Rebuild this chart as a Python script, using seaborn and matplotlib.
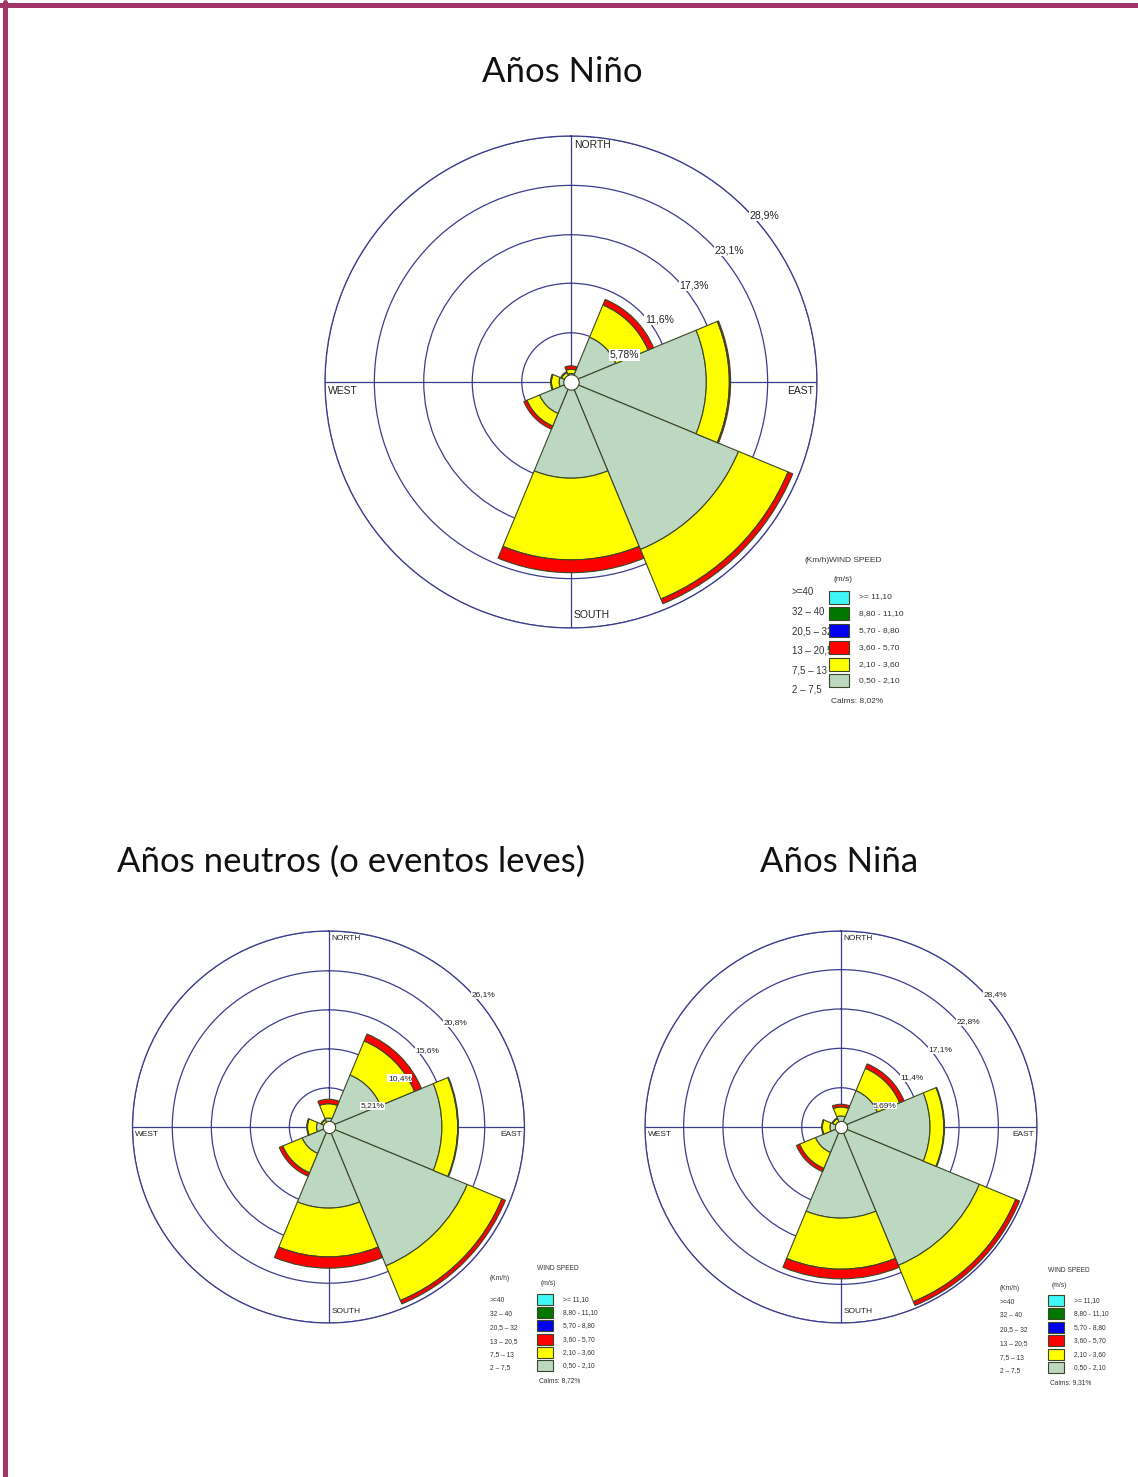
import numpy as np
import matplotlib
matplotlib.use("Agg")
import matplotlib.pyplot as plt
from matplotlib.patches import Rectangle
from matplotlib.lines import Line2D
import seaborn as sns

W, H = 1138, 1477

# --- datos ---------------------------------------------------------------
angulos = [0, 45, 90, 135, 180, 225, 270, 315]   # N, NE, E, SE, S, SW, W, NW

clases_ms = ['0,50 - 2,10', '2,10 - 3,60', '3,60 - 5,70',
             '5,70 - 8,80', '8,80 - 11,10', '>= 11,10']
clases_kmh = ['2 – 7,5', '7,5 – 13', '13 – 20,5', '20,5 – 32', '32 – 40', '>=40']
colores = ['#bcd8c1', '#ffff00', '#ff0000', '#0000f0', '#007800', '#40f8f8']

# frecuencia (%) por direccion, una lista por clase de velocidad
nino_050_210 = [1.0, 5.7, 15.9, 21.3, 11.3, 4.0, 1.4, 0.8]
nino_210_360 = [0.5, 4.1, 2.7, 6.3, 9.6, 1.6, 0.9, 0.4]
nino_360_570 = [0.4, 0.7, 0.15, 0.6, 1.5, 0.4, 0.1, 0.1]

neutro_050_210 = [1.2, 7.5, 15.1, 20.0, 10.8, 3.8, 1.6, 0.6]
neutro_210_360 = [1.9, 4.9, 2.1, 5.0, 6.5, 2.8, 1.2, 0.4]
neutro_360_570 = [0.6, 1.0, 0.1, 0.5, 1.5, 0.5, 0.1, 0.1]

nina_050_210 = [1.6, 5.7, 12.9, 21.7, 13.2, 4.0, 1.6, 0.8]
nina_210_360 = [1.3, 3.5, 2.0, 5.7, 7.4, 2.5, 1.1, 0.5]
nina_360_570 = [0.4, 0.7, 0.1, 0.6, 1.4, 0.5, 0.1, 0.1]

anillos_nino = [5.78, 11.6, 17.3, 23.1, 28.9]
anillos_neutro = [5.21, 10.4, 15.6, 20.8, 26.1]
anillos_nina = [5.69, 11.4, 17.1, 22.8, 28.4]

calmas = [8.02, 8.72, 9.31]

titulos = ['Años Niño', 'Años neutros (o eventos leves)', 'Años Niña']

# --- estilo --------------------------------------------------------------
sns.set_style('white')
plt.rcParams['font.family'] = ['Liberation Sans', 'DejaVu Sans']

AZUL = '#3c3c8e'
BORDE = '#3a4626'
TEXTO = '#333333'

fig = plt.figure(figsize=(W / 100, H / 100), dpi=100)


def fx(x):
    return x / W


def fy(y):
    return 1 - y / H


def rosa(cx, cy, r, series, anillos, fs):
    ax = fig.add_axes([fx(cx - r), fy(cy + r), 2 * r / W, 2 * r / H], projection='polar')
    ax.set_theta_zero_location('N')
    ax.set_theta_direction(-1)
    ax.set_ylim(0, anillos[-1])
    ax.set_yticks(anillos)
    ax.set_yticklabels([])
    ax.set_xticks(np.deg2rad([0, 90, 180, 270]))
    ax.set_xticklabels([])
    ax.grid(True, color=AZUL, lw=0.9)
    ax.spines['polar'].set_color(AZUL)
    ax.spines['polar'].set_linewidth(0.9)
    ax.set_axisbelow(True)

    theta = np.deg2rad(angulos)
    base = np.zeros(len(angulos))
    for valores, color in zip(series, colores):
        ax.bar(theta, valores, width=np.deg2rad(45), bottom=base, color=color,
               edgecolor=BORDE, linewidth=0.8, zorder=3)
        base = base + np.array(valores)

    ax.plot([0], [0], 'o', ms=r * 0.045, mfc='white', mec=BORDE, mew=0.8, zorder=5)

    for v in anillos:
        etiqueta = f'{v:.3g}'.replace('.', ',') + '%'
        ax.annotate(etiqueta, (np.deg2rad(45), v), xytext=(3, -2),
                    textcoords='offset points', ha='left', va='top', fontsize=fs,
                    color='#222222', zorder=6,
                    bbox=dict(boxstyle='square,pad=0.05', fc='white', ec='none'))

    rmax = anillos[-1]
    kw = dict(textcoords='offset points', fontsize=fs, color='#222222')
    ax.annotate('NORTH', (0, rmax), xytext=(2, -3), ha='left', va='top', **kw)
    ax.annotate('WEST', (np.deg2rad(270), rmax), xytext=(2, -3), ha='left', va='top', **kw)
    ax.annotate('EAST', (np.deg2rad(90), rmax), xytext=(-2, -3), ha='right', va='top', **kw)
    ax.annotate('SOUTH', (np.pi, rmax), xytext=(2, 6), ha='left', va='bottom', **kw)
    return ax


def leyenda(x, y, calma, fs, bw, bh, y0, dy, x_kmh, y_kmh, dy_kmh, fs_kmh, x_km_h, y_km_h):
    fig.text(fx(x_km_h), fy(y_km_h), '(Km/h)', fontsize=fs, ha='left', va='center', color=TEXTO)
    fig.text(fx(x), fy(y), 'WIND SPEED', fontsize=fs, ha='left', va='center', color=TEXTO)
    fig.text(fx(x + 4), fy(y + 1.1 * dy), '(m/s)', fontsize=fs, ha='left', va='center', color=TEXTO)
    n = len(colores)
    for i in range(n):
        k = n - 1 - i
        yc = y0 + i * dy
        fig.text(fx(x_kmh), fy(y_kmh + i * dy_kmh), clases_kmh[k], fontsize=fs_kmh,
                 ha='left', va='center', color=TEXTO, zorder=1)
        fig.add_artist(Rectangle((fx(x), fy(yc + bh / 2)), bw / W, bh / H,
                                 transform=fig.transFigure, fc=colores[k],
                                 ec=BORDE, lw=0.8, zorder=2))
        fig.text(fx(x + bw + 10), fy(yc), clases_ms[k], fontsize=fs, ha='left',
                 va='center', color=TEXTO)
    fig.text(fx(x + 2), fy(y0 + (n - 1) * dy + 1.15 * dy), f'Calms: {calma:.2f}%'.replace('.', ','),
             fontsize=fs, ha='left', va='center', color=TEXTO)


series_nino = [nino_050_210, nino_210_360, nino_360_570]
series_neutro = [neutro_050_210, neutro_210_360, neutro_360_570]
series_nina = [nina_050_210, nina_210_360, nina_360_570]

rosa(571, 382, 246, series_nino, anillos_nino, 7.5)
rosa(328.5, 1127, 196, series_neutro, anillos_neutro, 6)
rosa(841, 1127, 196, series_nina, anillos_nina, 6)

leyenda(829, 561, calmas[0], 6, 20, 13, 597, 16.8, 792, 592, 19.6, 7, 805, 561)
leyenda(537, 1269, calmas[1], 4.8, 16, 11, 1299.5, 13.2, 490, 1301, 13.4, 4.8, 490, 1278)
leyenda(1048, 1271, calmas[2], 4.8, 16, 11, 1300.5, 13.4, 1000, 1302, 13.8, 4.8, 1000, 1288)

# titulos
for texto, (tx, ty) in zip(titulos, [(562, 72), (351, 862), (839, 862)]):
    fig.text(fx(tx), fy(ty), texto, fontsize=25, family=['Lato', 'DejaVu Sans'],
             ha='center', va='center', color='#111111')

# marco
MARCO = '#9e3467'
fig.add_artist(Line2D([0, 1], [fy(4.5), fy(4.5)], transform=fig.transFigure, color=MARCO, lw=3.6))
fig.add_artist(Line2D([fx(4.5), fx(4.5)], [0, fy(2)], transform=fig.transFigure, color=MARCO, lw=3.6))

fig.savefig('out.png', dpi=100, facecolor='white')
